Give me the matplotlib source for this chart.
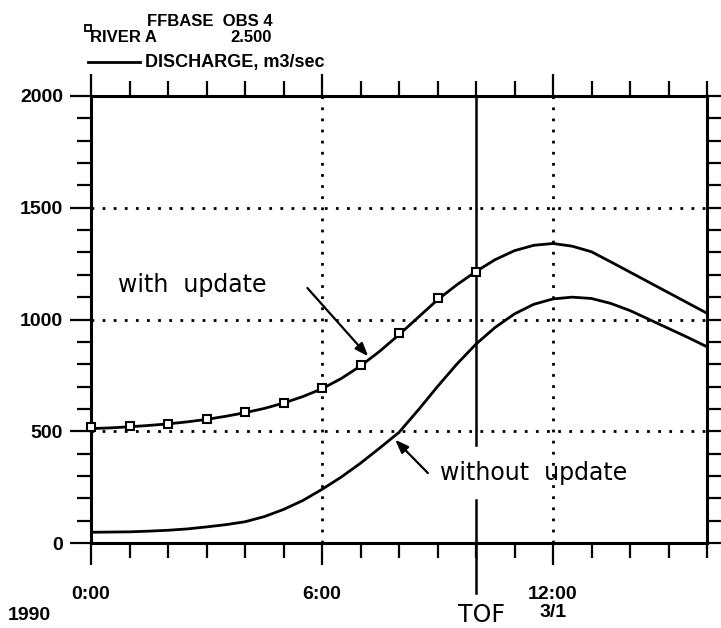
import numpy as np
import matplotlib
matplotlib.use("Agg")
import matplotlib.pyplot as plt
from matplotlib.lines import Line2D

# Half-hourly simulation times, hours after 0:00 on 3/1/1990
sim_hours = np.arange(0, 16.5, 0.5)

# Simulated discharge (m3/sec)
with_update = [512, 515, 520, 526, 533, 542, 553, 567, 583, 602, 626, 655,
               690, 736, 792, 858, 932, 1010, 1088, 1155, 1215, 1268, 1308,
               1332, 1340, 1328, 1303, 1258, 1212, 1166, 1120, 1074, 1028]
without_update = [48, 49, 50, 53, 57, 63, 72, 82, 95, 118, 150, 190, 240,
                  295, 357, 425, 495, 595, 700, 800, 890, 965, 1025, 1068,
                  1092, 1100, 1094, 1072, 1040, 1000, 960, 920, 878]

# Observed discharge, hourly up to the time of forecast
obs_hours = np.arange(0, 11)
obs_values = [518, 525, 531, 553, 585, 628, 692, 796, 938, 1094, 1214]

tof_hour = 10
x_major = [0, 6, 12]
x_minor = np.arange(0, 17)
x_labels = ["0:00", "6:00", "12:00\n3/1"]
y_major = [0, 500, 1000, 1500, 2000]

W, H = 721, 628
fig = plt.figure(figsize=(W / 100, H / 100), dpi=100)
ax = fig.add_axes([91 / W, 1 - 543 / H, (707 - 91) / W, (543 - 96) / H])

bold = dict(family="Liberation Sans", fontweight="bold")
round_font = dict(family="DejaVu Sans", fontweight="normal")

ax.set_xlim(0, 16)
ax.set_ylim(0, 2000)

# dotted reference grid
dot = (0, (1, 3))
for v in [500, 1000, 1500]:
    ax.axhline(v, color="black", lw=2, ls=dot, zorder=1)
for h in [6, 12]:
    ax.axvline(h, color="black", lw=2, ls=dot, zorder=1)

# time-of-forecast marker, broken around the label text
ax.plot([tof_hour, tof_hour], [2000, 438], color="black", lw=1.8, zorder=2)
ax.plot([tof_hour, tof_hour], [192, -224], color="black", lw=1.8,
        zorder=2, clip_on=False)
ax.text(tof_hour + 0.15, -322, "TOF", fontsize=17, ha="center", va="center",
        clip_on=False, **round_font)

ax.plot(sim_hours, with_update, color="black", lw=2, zorder=3)
ax.plot(sim_hours, without_update, color="black", lw=2, zorder=3)
ax.plot(obs_hours, obs_values, ls="none", marker="s", ms=6, mfc="white",
        mec="black", mew=1.5, zorder=4, clip_on=False)

# annotations
arrow = dict(arrowstyle="-|>,head_length=0.8,head_width=0.3", lw=1.6,
             color="black", shrinkA=0, shrinkB=0)
ax.text(0.70, 1154, "with  update", fontsize=17, ha="left", va="center",
        **round_font)
ax.annotate("", xy=(7.2, 835), xytext=(5.62, 1141), arrowprops=arrow)
ax.text(9.06, 313, "without  update", fontsize=17, ha="left", va="center",
        **round_font)
ax.annotate("", xy=(7.9, 462), xytext=(8.75, 313), arrowprops=arrow)

# axes frame and ticks
for s in ax.spines.values():
    s.set_linewidth(2.2)

ax.set_xticks(x_major)
ax.set_xticks(x_minor, minor=True)
ax.set_xticklabels(x_labels, fontsize=14, linespacing=1.1, **bold)
ax.set_yticks(y_major)
ax.set_yticks(np.arange(0, 2001, 100), minor=True)
ax.set_yticklabels([str(v) for v in y_major], fontsize=14, **bold)

ax.tick_params(axis="x", which="major", direction="out", length=16,
               width=1.6, top=True, pad=15)
ax.tick_params(axis="x", which="minor", direction="out", length=11,
               width=1.6, top=True)
ax.tick_params(axis="y", which="major", direction="out", length=15,
               width=1.6, right=True, pad=5)
ax.tick_params(axis="y", which="minor", direction="out", length=10,
               width=1.6, right=True)
for lab in ax.get_xticklabels():
    lab.set_va("top")
    lab.set_multialignment("center")

# header block
fig.text(147 / W, 1 - 22 / H, "FFBASE  OBS 4", fontsize=12, ha="left",
         va="center", **bold)
fig.text(90 / W, 1 - 37 / H, "RIVER A", fontsize=12, ha="left",
         va="center", **bold)
fig.text(230 / W, 1 - 37 / H, "2.500", fontsize=12, ha="left",
         va="center", **bold)
fig.text(145 / W, 1 - 63 / H, "DISCHARGE, m3/sec", fontsize=13, ha="left",
         va="center", **bold)
fig.add_artist(Line2D([88 / W], [1 - 28 / H], marker="s", ms=4.5,
                      mfc="white", mec="black", mew=1.3, ls="none"))
fig.add_artist(Line2D([88 / W, 140 / W], [1 - 62 / H, 1 - 62 / H],
                      color="black", lw=2))
fig.text(8 / W, 1 - 615 / H, "1990", fontsize=14, ha="left", va="center",
         **bold)

fig.savefig("out.png", dpi=100, facecolor="white")
